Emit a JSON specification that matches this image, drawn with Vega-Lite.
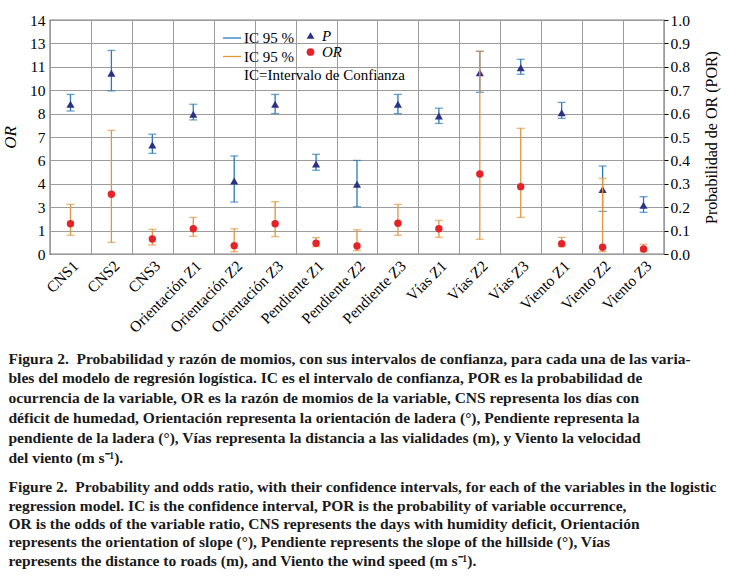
{
  "$schema": "https://vega.github.io/schema/vega-lite/v6.json",
  "width": 614,
  "height": 234,
  "autosize": {"type": "none"},
  "padding": {"left": 50, "top": 20, "right": 74, "bottom": 329},
  "config": {
    "font": "Liberation Serif",
    "view": {"stroke": "black", "strokeWidth": 1.2},
    "axis": {
      "labelFont": "Liberation Serif",
      "titleFont": "Liberation Serif",
      "labelColor": "black",
      "titleColor": "black",
      "labelFontSize": 15.5,
      "titleFontWeight": "normal",
      "gridColor": "#9c9c9c",
      "gridOpacity": 1,
      "gridWidth": 1,
      "ticks": false,
      "domain": false,
      "labelOverlap": false,
      "labelFlush": false
    },
    "legend": {
      "labelFont": "Liberation Serif",
      "labelColor": "black",
      "labelFontSize": 15
    }
  },
  "data": {
    "values": [
      {"var": "CNS1", "serie": "P", "ic": "IP", "val": 0.640, "lo": 0.611, "hi": 0.682},
      {"var": "CNS2", "serie": "P", "ic": "IP", "val": 0.772, "lo": 0.697, "hi": 0.870},
      {"var": "CNS3", "serie": "P", "ic": "IP", "val": 0.466, "lo": 0.430, "hi": 0.512},
      {"var": "Orientación Z1", "serie": "P", "ic": "IP", "val": 0.597, "lo": 0.573, "hi": 0.640},
      {"var": "Orientación Z2", "serie": "P", "ic": "IP", "val": 0.312, "lo": 0.222, "hi": 0.419},
      {"var": "Orientación Z3", "serie": "P", "ic": "IP", "val": 0.640, "lo": 0.600, "hi": 0.682},
      {"var": "Pendiente Z1", "serie": "P", "ic": "IP", "val": 0.385, "lo": 0.358, "hi": 0.426},
      {"var": "Pendiente Z2", "serie": "P", "ic": "IP", "val": 0.298, "lo": 0.202, "hi": 0.400},
      {"var": "Pendiente Z3", "serie": "P", "ic": "IP", "val": 0.640, "lo": 0.600, "hi": 0.682},
      {"var": "Vías Z1", "serie": "P", "ic": "IP", "val": 0.590, "lo": 0.558, "hi": 0.623},
      {"var": "Vías Z2", "serie": "P", "ic": "IP", "val": 0.775, "lo": 0.691, "hi": 0.866},
      {"var": "Vías Z3", "serie": "P", "ic": "IP", "val": 0.796, "lo": 0.768, "hi": 0.832},
      {"var": "Viento Z1", "serie": "P", "ic": "IP", "val": 0.604, "lo": 0.580, "hi": 0.648},
      {"var": "Viento Z2", "serie": "P", "ic": "IP", "val": 0.276, "lo": 0.182, "hi": 0.376},
      {"var": "Viento Z3", "serie": "P", "ic": "IP", "val": 0.208, "lo": 0.178, "hi": 0.245},
      {"var": "CNS1", "serie": "OR", "ic": "IO", "val": 1.81, "lo": 1.12, "hi": 2.97},
      {"var": "CNS2", "serie": "OR", "ic": "IO", "val": 3.57, "lo": 0.70, "hi": 7.40},
      {"var": "CNS3", "serie": "OR", "ic": "IO", "val": 0.90, "lo": 0.54, "hi": 1.48},
      {"var": "Orientación Z1", "serie": "OR", "ic": "IO", "val": 1.51, "lo": 1.06, "hi": 2.19},
      {"var": "Orientación Z2", "serie": "OR", "ic": "IO", "val": 0.50, "lo": 0.14, "hi": 1.51},
      {"var": "Orientación Z3", "serie": "OR", "ic": "IO", "val": 1.81, "lo": 1.04, "hi": 3.13},
      {"var": "Pendiente Z1", "serie": "OR", "ic": "IO", "val": 0.64, "lo": 0.44, "hi": 0.98},
      {"var": "Pendiente Z2", "serie": "OR", "ic": "IO", "val": 0.48, "lo": 0.20, "hi": 1.45},
      {"var": "Pendiente Z3", "serie": "OR", "ic": "IO", "val": 1.84, "lo": 1.12, "hi": 2.97},
      {"var": "Vías Z1", "serie": "OR", "ic": "IO", "val": 1.51, "lo": 1.00, "hi": 2.01},
      {"var": "Vías Z2", "serie": "OR", "ic": "IO", "val": 4.79, "lo": 0.88, "hi": 12.13},
      {"var": "Vías Z3", "serie": "OR", "ic": "IO", "val": 4.03, "lo": 2.19, "hi": 7.52},
      {"var": "Viento Z1", "serie": "OR", "ic": "IO", "val": 0.62, "lo": 0.44, "hi": 1.00},
      {"var": "Viento Z2", "serie": "OR", "ic": "IO", "val": 0.40, "lo": 0.14, "hi": 4.53},
      {"var": "Viento Z3", "serie": "OR", "ic": "IO", "val": 0.30, "lo": 0.14, "hi": 0.58}
    ]
  },
  "title": {
    "text": [
      "Figura 2.\u2002Probabilidad y razón de momios, con sus intervalos de confianza, para cada una de las varia-",
      "\u2003\u2003\u2003\u2003\u2002bles del modelo de regresión logística. IC es el intervalo de confianza, POR es la probabilidad de",
      "\u2003\u2003\u2003\u2003\u2002ocurrencia de la variable, OR es la razón de momios de la variable, CNS representa los días con",
      "\u2003\u2003\u2003\u2003\u2002déficit de humedad, Orientación representa la orientación de ladera (°), Pendiente representa la",
      "\u2003\u2003\u2003\u2003\u2002pendiente de la ladera (°), Vías representa la distancia a las vialidades (m), y Viento la velocidad",
      "\u2003\u2003\u2003\u2003\u2002del viento (m s⁻¹)."
    ],
    "subtitle": [
      "Figure 2.\u2002Probability and odds ratio, with their confidence intervals, for each of the variables in the logistic",
      "\u2003\u2003\u2003\u2003\u2002regression model. IC is the confidence interval, POR is the probability of variable occurrence,",
      "\u2003\u2003\u2003\u2003\u2002OR is the odds of the variable ratio, CNS represents the days with humidity deficit, Orientación",
      "\u2003\u2003\u2003\u2003\u2002represents the orientation of slope (°), Pendiente represents the slope of the hillside (°), Vías",
      "\u2003\u2003\u2003\u2003\u2002represents the distance to roads (m), and Viento the wind speed (m s⁻¹)."
    ],
    "orient": "bottom",
    "anchor": "start",
    "frame": "bounds",
    "offset": 16,
    "dx": 7,
    "font": "Liberation Serif",
    "fontSize": 15.5,
    "fontWeight": "bold",
    "color": "#1a1a1a",
    "lineHeight": 19.8,
    "subtitleFont": "Liberation Serif",
    "subtitleFontSize": 15.5,
    "subtitleFontWeight": "bold",
    "subtitleColor": "#1a1a1a",
    "subtitleLineHeight": 18.4,
    "subtitlePadding": 14
  },
  "encoding": {
    "x": {
      "field": "var",
      "type": "nominal",
      "sort": null,
      "scale": {"paddingInner": 0, "paddingOuter": 0},
      "axis": {
        "title": null,
        "labelAngle": -45,
        "tickBand": "extent",
        "grid": true,
        "labelPadding": 4,
        "labelFont": "Liberation Serif",
        "labelFontSize": 15.5,
        "labelColor": "black",
        "labelOverlap": false
      }
    }
  },
  "layer": [
    {
      "transform": [{"filter": "datum.serie == 'P'"}],
      "layer": [
        {
          "mark": {"type": "rule", "strokeWidth": 1.3},
          "encoding": {
            "y": {"field": "lo", "type": "quantitative", "scale": {"domain": [0, 1]},
              "axis": {"orient": "right", "title": "Probabilidad de OR (POR)", "titleFont": "Liberation Serif", "titleFontSize": 16, "titleFontWeight": "normal", "titleColor": "black", "titleAngle": -90, "titleBaseline": "top", "titlePadding": 14, "values": [0, 0.1, 0.2, 0.3, 0.4, 0.5, 0.6, 0.7, 0.8, 0.9, 1.0], "format": ".1f", "grid": true, "ticks": true, "tickSize": 4, "tickColor": "black", "labelPadding": 2, "labelFont": "Liberation Serif", "labelFontSize": 15.5, "labelColor": "black", "labelOverlap": false}},
            "y2": {"field": "hi"},
            "stroke": {
              "field": "ic",
              "type": "nominal",
              "scale": {"domain": ["IP", "IO", "note"], "range": ["#2a7bbd", "#e39540", "transparent"]},
              "legend": {
                "orient": "none",
                "legendX": 172,
                "legendY": 8,
                "title": null,
                "symbolType": "stroke",
                "symbolSize": 324,
                "symbolStrokeWidth": 1.3,
                "labelOffset": 2,
                "rowPadding": 0.5,
                "labelFont": "Liberation Serif",
                "labelFontSize": 15,
                "labelColor": "black",
                "labelLimit": 400,
                "labelExpr": "datum.value == 'note' ? 'IC=Intervalo de Confianza' : 'IC 95 %'"
              }
            }
          }
        },
        {
          "mark": {"type": "tick", "orient": "horizontal", "size": 8, "thickness": 1.3, "color": "#2a7bbd"},
          "encoding": {"y": {"field": "lo", "type": "quantitative", "scale": {"domain": [0, 1]},
            "axis": {"orient": "right", "title": "Probabilidad de OR (POR)", "titleFont": "Liberation Serif", "titleFontSize": 16, "titleFontWeight": "normal", "titleColor": "black", "titleAngle": -90, "titleBaseline": "top", "titlePadding": 14, "values": [0, 0.1, 0.2, 0.3, 0.4, 0.5, 0.6, 0.7, 0.8, 0.9, 1.0], "format": ".1f", "grid": true, "ticks": true, "tickSize": 4, "tickColor": "black", "labelPadding": 2, "labelFont": "Liberation Serif", "labelFontSize": 15.5, "labelColor": "black", "labelOverlap": false}}}
        },
        {
          "mark": {"type": "tick", "orient": "horizontal", "size": 8, "thickness": 1.3, "color": "#2a7bbd"},
          "encoding": {"y": {"field": "hi", "type": "quantitative", "scale": {"domain": [0, 1]},
            "axis": {"orient": "right", "title": "Probabilidad de OR (POR)", "titleFont": "Liberation Serif", "titleFontSize": 16, "titleFontWeight": "normal", "titleColor": "black", "titleAngle": -90, "titleBaseline": "top", "titlePadding": 14, "values": [0, 0.1, 0.2, 0.3, 0.4, 0.5, 0.6, 0.7, 0.8, 0.9, 1.0], "format": ".1f", "grid": true, "ticks": true, "tickSize": 4, "tickColor": "black", "labelPadding": 2, "labelFont": "Liberation Serif", "labelFontSize": 15.5, "labelColor": "black", "labelOverlap": false}}}
        },
        {
          "mark": {"type": "point", "filled": true, "size": 65, "opacity": 1},
          "encoding": {
            "y": {"field": "val", "type": "quantitative", "scale": {"domain": [0, 1]},
              "axis": {"orient": "right", "title": "Probabilidad de OR (POR)", "titleFont": "Liberation Serif", "titleFontSize": 16, "titleFontWeight": "normal", "titleColor": "black", "titleAngle": -90, "titleBaseline": "top", "titlePadding": 14, "values": [0, 0.1, 0.2, 0.3, 0.4, 0.5, 0.6, 0.7, 0.8, 0.9, 1.0], "format": ".1f", "grid": true, "ticks": true, "tickSize": 4, "tickColor": "black", "labelPadding": 2, "labelFont": "Liberation Serif", "labelFontSize": 15.5, "labelColor": "black", "labelOverlap": false}},
            "color": {
              "field": "serie",
              "type": "nominal",
              "scale": {"domain": ["P", "OR"], "range": ["#2b3185", "#e42329"]},
              "legend": {"orient": "none", "legendX": 253, "legendY": 8, "title": null, "labelFont": "Liberation Serif", "labelFontSize": 15, "labelColor": "black", "labelFontStyle": "italic", "rowPadding": 0.5, "symbolSize": 60}
            },
            "shape": {
              "field": "serie",
              "type": "nominal",
              "scale": {"domain": ["P", "OR"], "range": ["triangle-up", "circle"]},
              "legend": {"orient": "none", "legendX": 253, "legendY": 8, "title": null, "labelFont": "Liberation Serif", "labelFontSize": 15, "labelColor": "black", "labelFontStyle": "italic", "rowPadding": 0.5, "symbolSize": 60}
            }
          }
        }
      ]
    },
    {
      "transform": [{"filter": "datum.serie == 'OR'"}],
      "layer": [
        {
          "mark": {"type": "rule", "strokeWidth": 1.3},
          "encoding": {
            "y": {"field": "lo", "type": "quantitative", "scale": {"domain": [0, 14]},
              "axis": {"orient": "left", "title": "OR", "titleFont": "Liberation Serif", "titleFontSize": 17, "titleFontStyle": "italic", "titleFontWeight": "normal", "titleColor": "black", "titlePadding": 10, "values": [0, 1.4, 2.8, 4.2, 5.6, 7, 8.4, 9.8, 11.2, 12.6, 14], "format": ".0f", "grid": false, "labelPadding": 5, "labelFont": "Liberation Serif", "labelFontSize": 15.5, "labelColor": "black", "labelOverlap": false}},
            "y2": {"field": "hi"},
            "stroke": {
              "field": "ic",
              "type": "nominal",
              "scale": {"domain": ["IP", "IO", "note"], "range": ["#2a7bbd", "#e39540", "transparent"]}
            }
          }
        },
        {
          "mark": {"type": "tick", "orient": "horizontal", "size": 8, "thickness": 1.3, "color": "#e39540"},
          "encoding": {"y": {"field": "lo", "type": "quantitative", "scale": {"domain": [0, 14]},
            "axis": {"orient": "left", "title": "OR", "titleFont": "Liberation Serif", "titleFontSize": 17, "titleFontStyle": "italic", "titleFontWeight": "normal", "titleColor": "black", "titlePadding": 10, "values": [0, 1.4, 2.8, 4.2, 5.6, 7, 8.4, 9.8, 11.2, 12.6, 14], "format": ".0f", "grid": false, "labelPadding": 5, "labelFont": "Liberation Serif", "labelFontSize": 15.5, "labelColor": "black", "labelOverlap": false}}}
        },
        {
          "mark": {"type": "tick", "orient": "horizontal", "size": 8, "thickness": 1.3, "color": "#e39540"},
          "encoding": {"y": {"field": "hi", "type": "quantitative", "scale": {"domain": [0, 14]},
            "axis": {"orient": "left", "title": "OR", "titleFont": "Liberation Serif", "titleFontSize": 17, "titleFontStyle": "italic", "titleFontWeight": "normal", "titleColor": "black", "titlePadding": 10, "values": [0, 1.4, 2.8, 4.2, 5.6, 7, 8.4, 9.8, 11.2, 12.6, 14], "format": ".0f", "grid": false, "labelPadding": 5, "labelFont": "Liberation Serif", "labelFontSize": 15.5, "labelColor": "black", "labelOverlap": false}}}
        },
        {
          "mark": {"type": "point", "filled": true, "size": 55, "opacity": 1},
          "encoding": {
            "y": {"field": "val", "type": "quantitative", "scale": {"domain": [0, 14]},
              "axis": {"orient": "left", "title": "OR", "titleFont": "Liberation Serif", "titleFontSize": 17, "titleFontStyle": "italic", "titleFontWeight": "normal", "titleColor": "black", "titlePadding": 10, "values": [0, 1.4, 2.8, 4.2, 5.6, 7, 8.4, 9.8, 11.2, 12.6, 14], "format": ".0f", "grid": false, "labelPadding": 5, "labelFont": "Liberation Serif", "labelFontSize": 15.5, "labelColor": "black", "labelOverlap": false}},
            "color": {
              "field": "serie",
              "type": "nominal",
              "scale": {"domain": ["P", "OR"], "range": ["#2b3185", "#e42329"]}
            },
            "shape": {
              "field": "serie",
              "type": "nominal",
              "scale": {"domain": ["P", "OR"], "range": ["triangle-up", "circle"]}
            }
          }
        }
      ]
    }
  ],
  "resolve": {"scale": {"y": "independent"}}
}
